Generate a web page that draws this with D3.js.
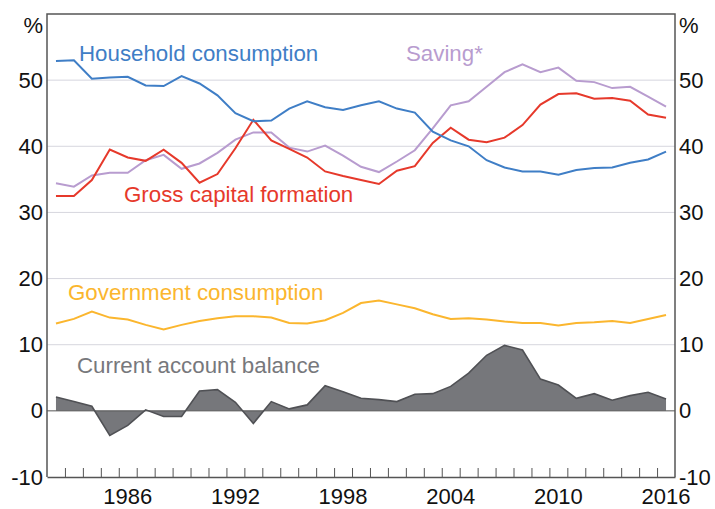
<!DOCTYPE html>
<html>

<head>
  <meta charset="utf-8">
  <script src="https://d3js.org/d3.v7.min.js"></script>
  <style>
    body { margin: 0; background: #fff; }
    svg { font-family: "Liberation Sans", Arial, sans-serif; }
    .axis path, .axis line { stroke: #555; }
    .axis text { fill: #111; font-size: 22px; }
    .grid line { stroke: #d6d6de; stroke-width: 1px; }
    .lbl { font-size: 22.3px; }
  </style>
</head>

<body>
  <svg width="715" height="509"></svg>
  <script>
    // years 1982 - 2016, annual
    var years = d3.range(1982, 2017);

    var household = [52.9, 53.0, 50.2, 50.4, 50.5, 49.2, 49.1, 50.6, 49.5, 47.7,
      45.0, 43.8, 43.9, 45.7, 46.8, 45.9, 45.5, 46.2, 46.8, 45.7,
      45.1, 42.2, 40.9, 40.0, 37.9, 36.8, 36.2, 36.2, 35.7, 36.4,
      36.7, 36.8, 37.5, 38.0, 39.2];

    var saving = [34.4, 33.9, 35.6, 36.0, 36.0, 37.9, 38.7, 36.6, 37.4, 39.0,
      41.0, 42.1, 42.1, 39.8, 39.2, 40.1, 38.6, 36.9, 36.1, 37.7,
      39.4, 42.7, 46.2, 46.8, 49.0, 51.2, 52.4, 51.2, 51.9, 49.9,
      49.7, 48.8, 49.0, 47.5, 46.0];

    var grossCapital = [32.5, 32.5, 34.9, 39.5, 38.3, 37.8, 39.5, 37.5, 34.5, 35.8,
      39.7, 44.0, 40.9, 39.6, 38.3, 36.2, 35.5, 34.9, 34.3, 36.3,
      37.0, 40.5, 42.8, 41.0, 40.6, 41.3, 43.2, 46.3, 47.9, 48.0,
      47.2, 47.3, 46.9, 44.8, 44.3];

    var government = [13.2, 13.9, 15.0, 14.1, 13.8, 13.0, 12.3, 13.0, 13.6, 14.0,
      14.3, 14.3, 14.1, 13.3, 13.2, 13.7, 14.8, 16.3, 16.7, 16.1,
      15.5, 14.6, 13.9, 14.0, 13.8, 13.5, 13.3, 13.3, 12.9, 13.3,
      13.4, 13.6, 13.3, 13.9, 14.5];

    var currentAccount = [2.1, 1.4, 0.7, -3.7, -2.2, 0.15, -0.85, -0.85, 3.0, 3.2,
      1.3, -1.9, 1.4, 0.3, 0.9, 3.8, 2.9, 1.9, 1.7, 1.4,
      2.5, 2.6, 3.7, 5.7, 8.4, 9.9, 9.2, 4.8, 3.9, 1.9,
      2.6, 1.6, 2.3, 2.8, 1.8];

    var yTicks = [-10, 0, 10, 20, 30, 40, 50];
    var yearLabels = [1986, 1992, 1998, 2004, 2010, 2016];

    var plotL = 47, plotR = 675, plotT = 14, plotB = 477;
    var svg = d3.select('svg');

    var x = d3.scaleLinear().domain([1982, 2017]).range([plotL, plotR]);
    var y = d3.scaleLinear().domain([-10, 60]).range([plotB, plotT]);

    // gridlines
    svg.append('g').attr('class', 'grid')
      .selectAll('line')
      .data([10, 20, 30, 40, 50])
      .enter().append('line')
      .attr('x1', plotL).attr('x2', plotR)
      .attr('y1', function (d) { return y(d); })
      .attr('y2', function (d) { return y(d); });

    // current account area
    var cad = years.map(function (yr, i) { return { yr: yr, v: currentAccount[i] }; });
    var area = d3.area()
      .x(function (d) { return x(d.yr + 0.5); })
      .y0(y(0))
      .y1(function (d) { return y(d.v); });
    svg.append('path').datum(cad)
      .attr('d', area)
      .attr('fill', '#76777b');

    // zero line
    svg.append('line')
      .attr('x1', plotL).attr('x2', plotR)
      .attr('y1', y(0)).attr('y2', y(0))
      .attr('stroke', '#555').attr('stroke-width', 1);

    svg.append('path').datum(cad)
      .attr('d', d3.line().x(function (d) { return x(d.yr + 0.5); }).y(function (d) { return y(d.v); }))
      .attr('fill', 'none')
      .attr('stroke', '#505155')
      .attr('stroke-width', 1.6);

    var series = [
      { vals: government, color: '#fbb62e' },
      { vals: saving, color: '#b89ccf' },
      { vals: grossCapital, color: '#e6392b' },
      { vals: household, color: '#3f7ec6' }
    ];

    var line = d3.line()
      .x(function (d, i) { return x(years[i] + 0.5); })
      .y(function (d) { return y(d); });

    svg.selectAll('path.series')
      .data(series)
      .enter().append('path')
      .attr('class', 'series')
      .attr('d', function (d) { return line(d.vals); })
      .attr('fill', 'none')
      .attr('stroke', function (d) { return d.color; })
      .attr('stroke-width', 2);

    // frame
    svg.append('path')
      .attr('d', 'M' + plotL + ',' + plotB + 'V' + plotT + 'H' + plotR + 'V' + plotB)
      .attr('fill', 'none').attr('stroke', '#555').attr('stroke-width', 1.5);

    // y axes, plain hyphen for negatives
    var fmt = function (d) { return String(d); };
    var yl = svg.append('g').attr('class', 'axis')
      .attr('transform', 'translate(' + plotL + ',0)')
      .call(d3.axisLeft(y).tickValues(yTicks).tickFormat(fmt).tickSize(0).tickPadding(4));
    yl.select('.domain').remove();
    var yr = svg.append('g').attr('class', 'axis')
      .attr('transform', 'translate(' + plotR + ',0)')
      .call(d3.axisRight(y).tickValues(yTicks).tickFormat(fmt).tickSize(0).tickPadding(4));
    yr.select('.domain').remove();

    svg.append('text').attr('x', 43).attr('y', 33).attr('text-anchor', 'end')
      .style('font-size', '22px').attr('fill', '#111').text('%');
    svg.append('text').attr('x', 679).attr('y', 33)
      .style('font-size', '22px').attr('fill', '#111').text('%');

    // x axis: ticks at year boundaries
    var xb = svg.append('g').attr('class', 'axis')
      .attr('transform', 'translate(0,' + plotB + ')')
      .call(d3.axisBottom(x).tickValues(d3.range(1983, 2017)).tickSizeInner(-9).tickSizeOuter(0).tickFormat(''));
    xb.select('.domain').attr('stroke-width', 1.5);

    // x labels centred in year
    svg.append('g').selectAll('text')
      .data(yearLabels)
      .enter().append('text')
      .attr('x', function (d) { return x(d + 0.5); })
      .attr('y', 504)
      .attr('text-anchor', 'middle')
      .style('font-size', '22px')
      .attr('fill', '#111')
      .text(function (d) { return d; });

    // series labels
    var labels = [
      { t: 'Household consumption', x: 79, y: 61, c: '#3f7ec6' },
      { t: 'Saving*', x: 406, y: 61, c: '#b89ccf' },
      { t: 'Gross capital formation', x: 124, y: 202, c: '#e6392b' },
      { t: 'Government consumption', x: 68, y: 300, c: '#fbb62e' },
      { t: 'Current account balance', x: 77, y: 373, c: '#77787c' }
    ];
    svg.append('g').selectAll('text')
      .data(labels)
      .enter().append('text')
      .attr('class', 'lbl')
      .attr('x', function (d) { return d.x; })
      .attr('y', function (d) { return d.y; })
      .attr('fill', function (d) { return d.c; })
      .text(function (d) { return d.t; });
  </script>
</body>

</html>
